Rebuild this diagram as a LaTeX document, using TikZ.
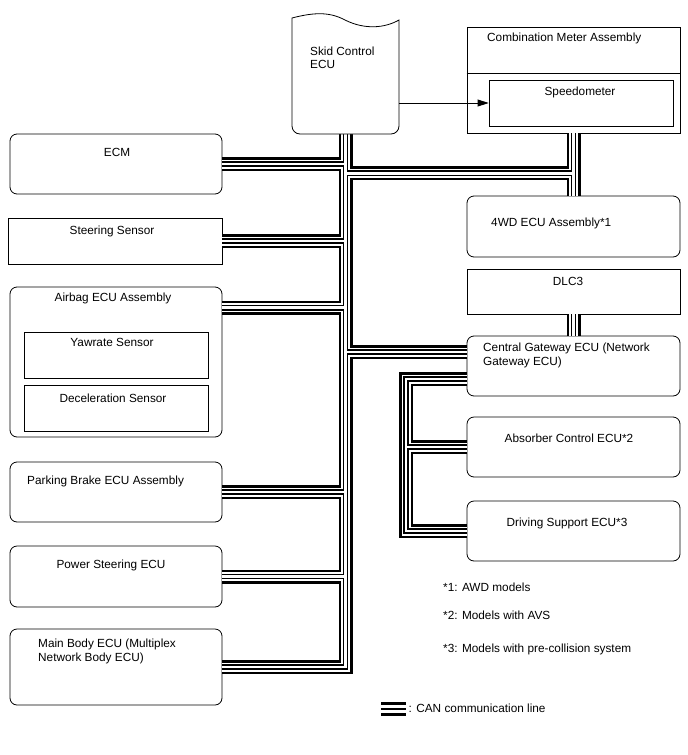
\documentclass[tikz,border=0pt]{standalone}
\usepackage{fontspec}
\setmainfont{Liberation Sans}
\usetikzlibrary{arrows.meta}
\newcommand\lbfont{\fontsize{11.8}{14}\selectfont}
\newcommand\canpaths[1]{%
  \draw[#1] (skid.south) |- (mainb.east);
  \draw[#1] (ecm.east) -- (ecm.east -| skid.south);
  \draw[#1] (steer.east) -- (steer.east -| skid.south);
  \draw[#1] (ab1) -- (ab1 -| skid.south);
  \draw[#1] (park.east) -- (park.east -| skid.south);
  \draw[#1] (pwr.east) -- (pwr.east -| skid.south);
  \draw[#1] (j1) -- (j1 -| meter.south);
  \draw[#1] (meter.south) -- (wd.north);
  \draw[#1] (g1) -- (g1 -| skid.south);
  \draw[#1] (dlc.south) -- (gw.north);
  \draw[#1] (g2) -- (g2 -| x2) |- (drv.west);
  \draw[#1] (absr.west) -- (absr.west -| x2);
}
\begin{document}
\begin{tikzpicture}[x=1pt,y=-1pt,
  box/.style={draw=black, line width=0.8pt, fill=white, inner sep=0pt},
  rbox/.style={box, rounded corners=7pt},
  lbl/.style={inner sep=0pt, font=\lbfont},
  bw/.style={lbl, anchor=base west},
  bc/.style={lbl, anchor=base}]
\useasboundingbox[fill=white] (0,0) rectangle (688,755);

% node frames (positions)
\node[inner sep=0pt, minimum width=107pt, minimum height=121pt] (skid) at (345.5,73.5) {};
\node[box, minimum width=213pt, minimum height=106pt] (meter) at (573.5,80) {};
\node[box, minimum width=184pt, minimum height=46pt] (speedo) at (581,103) {};
\node[rbox, minimum width=212pt, minimum height=60pt] (ecm) at (116,164) {};
\node[box, minimum width=214pt, minimum height=46pt] (steer) at (115,241) {};
\node[rbox, minimum width=212pt, minimum height=150pt] (airbag) at (116,362) {};
\node[box, minimum width=184pt, minimum height=46pt] (yaw) at (116,355) {};
\node[box, minimum width=184pt, minimum height=46pt] (dec) at (116,408) {};
\node[rbox, minimum width=212pt, minimum height=60pt] (park) at (116,492) {};
\node[rbox, minimum width=212pt, minimum height=61pt] (pwr) at (116,576.5) {};
\node[rbox, minimum width=212pt, minimum height=76pt] (mainb) at (116,667) {};
\node[rbox, minimum width=213pt, minimum height=61pt] (wd) at (573.5,226.5) {};
\node[box, minimum width=213pt, minimum height=45pt] (dlc) at (573.5,291.5) {};
\node[rbox, minimum width=213pt, minimum height=60pt] (gw) at (573.5,366) {};
\node[rbox, minimum width=213pt, minimum height=60pt] (absr) at (573.5,447) {};
\node[rbox, minimum width=213pt, minimum height=60pt] (drv) at (573.5,531) {};

\coordinate (ab1) at ([yshift=-21pt]airbag.north east);
\coordinate (j1) at ([yshift=-39pt]skid.south);
\coordinate (g1) at ([yshift=14pt]gw.west);
\coordinate (g2) at ([yshift=-13pt]gw.west);
\coordinate (x2) at (406,0);
\coordinate (dv) at (0,73);

% CAN bus, drawn in layers
\canpaths{line width=14pt, black}
\canpaths{line width=9pt, white}
\canpaths{line width=5.8pt, black}
\canpaths{line width=2.6pt, white}

% Skid Control ECU shape
\draw[line width=0.8pt, fill=white] (292,18) .. controls (315,12) and (330,12) .. (345,20)
  .. controls (365,30) and (385,28) .. (399,20) -- (399,126) arc[start angle=0, end angle=-90, radius=8pt]
  -- (300,134) arc[start angle=-90, end angle=-180, radius=8pt] -- cycle;

\draw[line width=0.8pt] (meter.west |- dv) -- (meter.east |- dv);

% arrow
\draw[line width=0.8pt, -{Triangle[length=11pt,width=7pt]}] (skid.east |- speedo.west) -- (speedo.west);

% texts
\node[bw] (t1) at (310,55) {Skid Control};
\node[bw] (t2) at (310,68) {ECU};
\node[bw] (t3) at (487,41.5) {Combination Meter Assembly};
\node[bc] (t4) at (580,95.5) {Speedometer};
\node[bc] (t5) at (117,156) {ECM};
\node[bc] (t6) at (112,234.5) {Steering Sensor};
\node[bc] (t7) at (113,301.5) {Airbag ECU Assembly};
\node[bc] (t8) at (112,346.5) {Yawrate Sensor};
\node[bc] (t9) at (113,402) {Deceleration Sensor};
\node[bw] (t10) at (27,484.5) {Parking Brake ECU Assembly};
\node[bc] (t11) at (111,568.5) {Power Steering ECU};
\node[bw] (t12) at (38,647) {Main Body ECU (Multiplex};
\node[bw] (t13) at (38,661) {Network Body ECU)};
\node[bw] (t14) at (491,226.5) {4WD ECU Assembly*1};
\node[bc] (t15) at (568,285) {DLC3};
\node[bw] (t16) at (483,351) {Central Gateway ECU (Network};
\node[bw] (t17) at (483,365) {Gateway ECU)};
\node[bc] (t18) at (569,442) {Absorber Control ECU*2};
\node[bc] (t19) at (567,526) {Driving Support ECU*3};
\node[bw] (t20) at (443,591.5) {*1: AWD models};
\node[bw] (t21) at (443,619.5) {*2: Models with AVS};
\node[bw] (t22) at (443,652) {*3: Models with pre-collision system};

% legend
\coordinate (la) at (381,703.5);
\coordinate (lb) at (406,703.5);
\draw[line width=2.5pt] (la) -- (lb);
\draw[line width=2pt] ([yshift=-5.5pt]la) -- ([yshift=-5.5pt]lb);
\draw[line width=3pt] ([yshift=-11pt]la) -- ([yshift=-11pt]lb);
\node[bw] (t23) at (408.5,712) {: CAN communication line};
\end{tikzpicture}
\end{document}
